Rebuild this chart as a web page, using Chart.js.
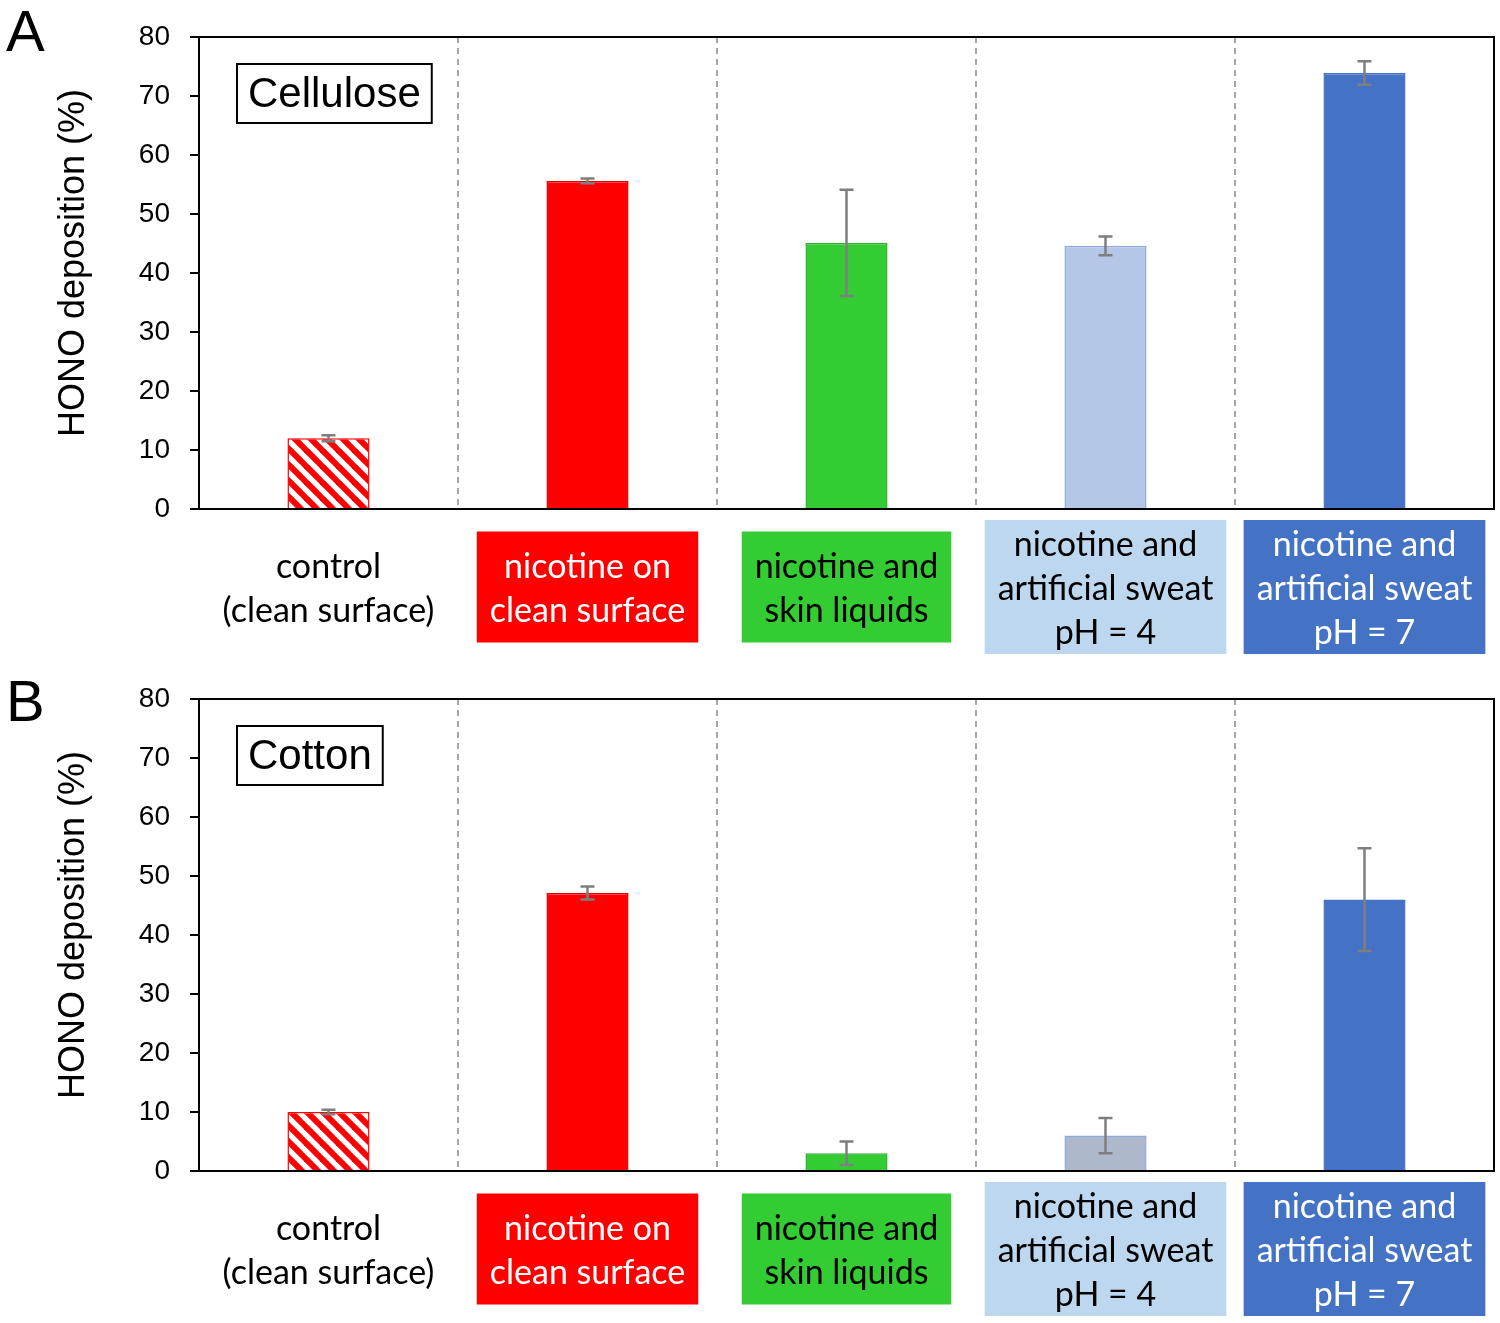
<!DOCTYPE html>
<html><head><meta charset="utf-8">
<script src="https://cdn.jsdelivr.net/npm/chart.js@4"></script>
<style>body{margin:0;background:#fff} canvas{display:block}</style>
</head><body>
<div style="position:relative;width:1500px;height:661px"><canvas id="chartA"></canvas></div>
<div style="position:relative;width:1500px;height:662px"><canvas id="chartB"></canvas></div>
<script>
const categories = [
  ["control", "(clean surface)"],
  ["nicotine on", "clean surface"],
  ["nicotine and", "skin liquids"],
  ["nicotine and", "artificial sweat", "pH = 4"],
  ["nicotine and", "artificial sweat", "pH = 7"]
];
const yTickValues = [0, 10, 20, 30, 40, 50, 60, 70, 80];
const celluloseValues = [12, 55.6, 45.1, 44.6, 73.9];
const celluloseErrors = [0.5, 0.4, 9, 1.6, 2];
const cottonValues = [10, 47.1, 3, 6, 46];
const cottonErrors = [0.4, 1.1, 2, 3, 8.7];
const labelBoxColors = [null, "#FF0000", "#33CC33", "#BDD7EE", "#4472C4"];
const labelTextColors = ["#000000", "#FFFFFF", "#000000", "#000000", "#FFFFFF"];
const celluloseColors = ["hatch", "#FF0000", "#33CC33", "#B4C7E7", "#4472C4"];
const cottonColors = ["hatch", "#FF0000", "#33CC33", "#ADB9CA", "#4472C4"];
const borderColors = ["#FF0000", "#E00000", "#2EAF2E", "#8FAADC", "#4472C4"];

function hatchPattern() {
  const c = document.createElement('canvas');
  c.width = 16; c.height = 16;
  const g = c.getContext('2d');
  g.fillStyle = '#fff'; g.fillRect(0, 0, 16, 16);
  g.strokeStyle = '#ff0000'; g.lineWidth = 6;
  for (const k of [-16, 0, 16]) {
    g.beginPath(); g.moveTo(k - 2, -2); g.lineTo(k + 18, 18); g.stroke();
  }
  return g.createPattern(c, 'repeat');
}

const errorBarPlugin = {
  id: 'errorBars',
  afterDatasetsDraw(chart) {
    const errs = chart.options.plugins.errorBars.errors;
    const meta = chart.getDatasetMeta(0);
    const ys = chart.scales.y;
    const vals = chart.data.datasets[0].data;
    const ctx = chart.ctx;
    ctx.save();
    ctx.strokeStyle = '#7F7F7F'; ctx.lineWidth = 2.5;
    meta.data.forEach((bar, i) => {
      const x = bar.x;
      const y1 = ys.getPixelForValue(vals[i] + errs[i]);
      const y2 = ys.getPixelForValue(vals[i] - errs[i]);
      ctx.beginPath();
      ctx.moveTo(x, y1); ctx.lineTo(x, y2);
      ctx.moveTo(x - 7, y1); ctx.lineTo(x + 7, y1);
      ctx.moveTo(x - 7, y2); ctx.lineTo(x + 7, y2);
      ctx.stroke();
    });
    ctx.restore();
  }
};

const labelBoxPlugin = {
  id: 'labelBoxes',
  beforeDraw(chart) {
    const xs = chart.scales.x;
    const ctx = chart.ctx;
    ctx.save();
    ctx.font = '34px Lato';
    categories.forEach((lines, i) => {
      if (!labelBoxColors[i]) return;
      const cx = xs.getPixelForTick(i);
      const w = Math.max(...lines.map(l => ctx.measureText(l).width)) + 26;
      const h = lines.length === 2 ? 111 : 134;
      const cy = xs.top + 78;
      ctx.fillStyle = labelBoxColors[i];
      ctx.fillRect(cx - w / 2, cy - h / 2, w, h);
    });
    ctx.restore();
  }
};

const framePlugin = {
  id: 'frame',
  afterDraw(chart) {
    const a = chart.chartArea;
    const ctx = chart.ctx;
    const o = chart.options.plugins.frame;
    ctx.save();
    ctx.strokeStyle = '#000'; ctx.lineWidth = 2;
    ctx.beginPath();
    ctx.moveTo(a.left, a.top); ctx.lineTo(a.right, a.top); ctx.lineTo(a.right, a.bottom);
    ctx.stroke();
    // title box
    ctx.font = '42px "Liberation Sans"';
    const tw = ctx.measureText(o.title).width;
    const bx = a.left + 38, by = a.top + 27, bw = tw + 22, bh = 59;
    ctx.fillStyle = '#fff';
    ctx.fillRect(bx, by, bw, bh);
    ctx.strokeRect(bx, by, bw, bh);
    ctx.fillStyle = '#000';
    ctx.textAlign = 'center'; ctx.textBaseline = 'middle';
    ctx.fillText(o.title, bx + bw / 2, by + bh / 2 + 2);
    // panel letter
    ctx.font = '58px "Liberation Sans"';
    ctx.textAlign = 'left'; ctx.textBaseline = 'alphabetic';
    ctx.fillText(o.letter, 6, o.letterY);
    ctx.restore();
  }
};

function makeChart(id, values, errors, colors, title, letter, letterY, topPad) {
  const hatch = hatchPattern();
  return new Chart(document.getElementById(id), {
    type: 'bar',
    data: {
      labels: categories,
      datasets: [{
        data: values,
        backgroundColor: colors.map(c => c === 'hatch' ? hatch : c),
        borderColor: borderColors,
        borderWidth: 1.5,
        categoryPercentage: 1,
        barPercentage: 0.317
      }]
    },
    options: {
      responsive: true,
      maintainAspectRatio: false,
      animation: false,
      layout: { padding: { top: topPad, right: 6, left: 0, bottom: 0 } },
      plugins: {
        legend: { display: false },
        tooltip: { enabled: false },
        errorBars: { errors: errors },
        frame: { title: title, letter: letter, letterY: letterY }
      },
      scales: {
        x: {
          afterFit(s) { s.height = 152; },
          grid: { display: true, offset: true, drawOnChartArea: true, drawTicks: true, tickLength: 33, tickColor: 'rgba(0,0,0,0)', color: '#A6A6A6', lineWidth: 2 },
          border: { display: true, color: '#000', width: 2, dash: [6, 5] },
          ticks: {
            font: { family: 'Lato', size: 34, lineHeight: 1.3 },
            color: (c) => labelTextColors[c.index],
            padding: 3,
            crossAlign: 'center',
            maxRotation: 0, autoSkip: false
          }
        },
        y: {
          min: 0, max: 80,
          afterFit(s) { s.width = 199; },
          afterBuildTicks(s) { s.ticks = yTickValues.map(v => ({ value: v })); },
          grid: { display: true, drawOnChartArea: false, drawTicks: true, tickLength: 9, color: '#000', lineWidth: 2 },
          border: { display: true, color: '#000', width: 2 },
          ticks: { font: { family: 'Liberation Sans', size: 28 }, color: '#000', padding: 20 },
          title: {
            display: true, text: '\u00A0\u00A0HONO deposition (%)', color: '#000',
            font: { family: 'Liberation Sans', size: 36 },
            padding: { top: 52, bottom: 0 }
          }
        }
      }
    },
    plugins: [labelBoxPlugin, errorBarPlugin, framePlugin]
  });
}

makeChart('chartA', celluloseValues, celluloseErrors, celluloseColors, 'Cellulose', 'A', 51, 37);
makeChart('chartB', cottonValues, cottonErrors, cottonColors, 'Cotton', 'B', 60, 38);
</script>
</body></html>
